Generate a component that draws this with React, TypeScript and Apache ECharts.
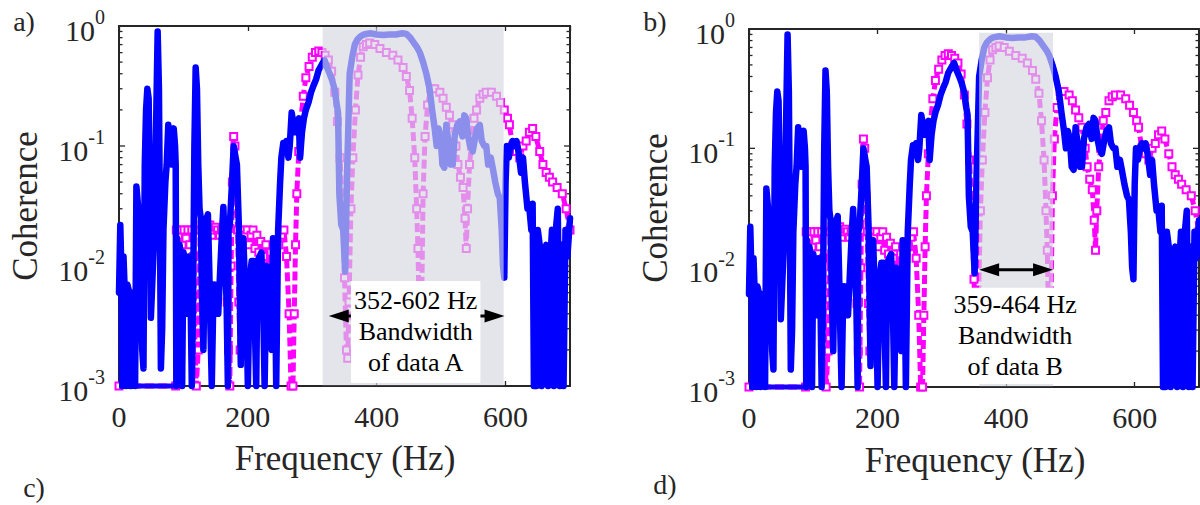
import React, { useEffect, useRef } from "react";
import * as echarts from "echarts";

const FONT = '"Liberation Serif", "Times New Roman", serif';
const AXIS_COLOR = "#262626";

// [frequency Hz, coherence]
const blueCoherence: number[][] = [
  [0, 0.006], [2, 0.022], [4, 0.008], [5, 0.001], [7, 0.012], [9, 0.006], [11, 0.001], [13, 0.007],
  [16, 0.006], [18, 0.001], [20, 0.006], [23, 0.005], [25, 0.001], [27, 0.046], [30, 0.03], [33, 0.006],
  [36, 0.002], [38, 0.0014], [40, 0.07], [42, 0.2], [44, 0.3], [46, 0.25], [47.5, 0.06], [49.5, 0.0037],
  [52, 0.008], [55, 0.02], [57, 0.1], [60, 0.9], [62, 0.3], [64, 0.01], [65, 0.0014], [67, 0.003],
  [69, 0.02], [72, 0.05], [74, 0.07], [76.5, 0.15], [79, 0.1], [81.5, 0.07], [83, 0.13], [85, 0.14],
  [87, 0.1], [88, 0.07], [89, 0.001], [90, 0.017], [92, 0.002], [94, 0.015], [96, 0.012], [98, 0.001],
  [100, 0.013], [103, 0.01], [106, 0.004], [108, 0.012], [111, 0.006], [113, 0.001], [115, 0.005],
  [117, 0.1], [119, 0.45], [121, 0.3], [123, 0.07], [125, 0.03], [127, 0.025], [129, 0.005], [131, 0.002],
  [133, 0.01], [136, 0.025], [138, 0.027], [140, 0.01], [142, 0.003], [144, 0.001], [146, 0.004],
  [148, 0.007], [151, 0.004], [154, 0.004], [157, 0.009], [160, 0.02], [162, 0.031], [164, 0.015],
  [167, 0.005], [169, 0.001], [170, 0.02], [172, 0.022], [175, 0.045], [178, 0.1], [181, 0.08],
  [183, 0.07], [186, 0.022], [189, 0.0015], [191, 0.01], [193, 0.017], [196, 0.006], [198, 0.004],
  [200, 0.001], [203, 0.008], [206, 0.011], [209, 0.011], [211, 0.003], [213, 0.001], [215, 0.011],
  [218, 0.012], [221, 0.013], [224, 0.004], [226, 0.001], [229, 0.01], [232, 0.008], [234, 0.005],
  [237, 0.002], [239, 0.017], [242, 0.01], [244, 0.001], [247, 0.02], [250, 0.049], [252, 0.08],
  [255, 0.106], [258, 0.09], [260, 0.11], [263, 0.08], [265, 0.1], [268, 0.19], [271, 0.15],
  [273, 0.13], [276, 0.16], [279, 0.17], [281, 0.08], [284, 0.13], [287, 0.17], [290, 0.2],
  [294, 0.23], [298, 0.28], [302, 0.32], [306, 0.36], [310, 0.43], [315, 0.48], [319, 0.52],
  [323, 0.45], [327, 0.4], [331, 0.35], [335, 0.29], [338, 0.22], [340, 0.19], [342, 0.04],
  [345, 0.022], [348, 0.02], [351, 0.009], [354, 0.06], [356, 0.15], [358, 0.4], [362, 0.55],
  [366, 0.7], [370, 0.77], [375, 0.82], [380, 0.85], [390, 0.87], [400, 0.85], [410, 0.84],
  [420, 0.85], [430, 0.85], [440, 0.87], [446, 0.86], [452, 0.8], [458, 0.72], [463, 0.66],
  [467, 0.6], [472, 0.5], [477, 0.4], [482, 0.3], [486, 0.2], [490, 0.14], [493, 0.1], [496, 0.14],
  [499, 0.12], [502, 0.07], [505, 0.066], [508, 0.15], [512, 0.1], [515, 0.07], [518, 0.07],
  [521, 0.12], [525, 0.15], [529, 0.16], [533, 0.12], [536, 0.18], [539, 0.17], [542, 0.12],
  [545, 0.1], [549, 0.09], [553, 0.12], [556, 0.14], [560, 0.15], [563, 0.11], [567, 0.1],
  [570, 0.1], [573, 0.07], [577, 0.08], [580, 0.066], [584, 0.05], [588, 0.04], [591, 0.037],
  [594, 0.02], [596, 0.01], [598, 0.008], [600, 0.05], [602, 0.1], [605, 0.08], [608, 0.1],
  [611, 0.11], [614, 0.1], [617, 0.11], [620, 0.09], [624, 0.06], [627, 0.08], [630, 0.05],
  [634, 0.03], [637, 0.03], [640, 0.02], [642, 0.033], [644, 0.001], [646, 0.02], [648, 0.001],
  [650, 0.02], [653, 0.015], [656, 0.001], [659, 0.012], [663, 0.015], [666, 0.001], [669, 0.01],
  [672, 0.02], [675, 0.001], [678, 0.02], [681, 0.03], [684, 0.001], [687, 0.015], [690, 0.001],
  [693, 0.02], [696, 0.012], [700, 0.025],
];

const blueFloor: number[][] = [[0, 0.001], [89, 0.001]];

const magentaCoherence: number[][] = [
  [0, 0.001], [88, 0.001], [89, 0.02], [92, 0.018], [95, 0.02], [98, 0.015], [101, 0.02], [104, 0.017],
  [107, 0.02], [110, 0.015], [113, 0.02], [116, 0.012], [118, 0.002], [120, 0.001], [123, 0.002],
  [126, 0.02], [129, 0.022], [132, 0.006], [135, 0.004], [138, 0.02], [141, 0.022], [144, 0.018],
  [147, 0.02], [150, 0.021], [153, 0.02], [156, 0.018], [159, 0.02], [162, 0.02], [165, 0.015],
  [168, 0.005], [170, 0.002], [172, 0.001], [174, 0.01], [176, 0.05], [178, 0.12], [180, 0.1],
  [182, 0.04], [184, 0.02], [186, 0.005], [188, 0.002], [190, 0.01], [193, 0.02], [196, 0.018],
  [199, 0.02], [202, 0.015], [205, 0.018], [208, 0.02], [211, 0.014], [214, 0.018], [217, 0.013],
  [220, 0.016], [224, 0.012], [228, 0.015], [232, 0.01], [236, 0.013], [240, 0.01], [244, 0.012],
  [248, 0.015], [252, 0.018], [256, 0.02], [260, 0.012], [264, 0.004], [267, 0.001], [270, 0.001],
  [272, 0.004], [274, 0.015], [276, 0.04], [279, 0.09], [282, 0.16], [286, 0.26], [290, 0.37],
  [295, 0.46], [300, 0.55], [305, 0.6], [310, 0.62], [315, 0.6], [320, 0.57], [325, 0.52],
  [330, 0.42], [335, 0.28], [339, 0.16], [343, 0.08], [347, 0.03], [350, 0.008], [353, 0.002],
  [355, 0.0017], [357, 0.005], [360, 0.03], [363, 0.08], [367, 0.2], [371, 0.39], [375, 0.55],
  [379, 0.67], [384, 0.7], [389, 0.72], [397, 0.7], [405, 0.65], [415, 0.6], [425, 0.57],
  [433, 0.52], [441, 0.45], [446, 0.38], [451, 0.29], [455, 0.17], [459, 0.08], [462, 0.03],
  [464, 0.014], [466, 0.004], [468, 0.0017], [470, 0.006], [472, 0.04], [475, 0.12], [479, 0.22],
  [484, 0.3], [490, 0.3], [498, 0.28], [503, 0.25], [508, 0.21], [513, 0.18], [518, 0.15],
  [523, 0.1], [526, 0.07], [530, 0.055], [534, 0.045], [537, 0.025], [539, 0.014], [541, 0.03],
  [544, 0.07], [547, 0.1], [551, 0.17], [555, 0.2], [560, 0.25], [565, 0.27], [570, 0.28],
  [578, 0.28], [586, 0.26], [592, 0.23], [598, 0.2], [603, 0.17], [606, 0.15], [611, 0.1],
  [617, 0.09], [622, 0.08], [627, 0.1], [632, 0.11], [637, 0.13], [642, 0.14], [647, 0.12],
  [653, 0.09], [658, 0.07], [663, 0.06], [668, 0.055], [673, 0.05], [680, 0.045], [688, 0.04],
  [694, 0.03], [700, 0.02],
];

const xTicks = [0, 200, 400, 600];
const yDecades = [0.001, 0.01, 0.1, 1];
const yMinorMultipliers = [2, 3, 4, 5, 6, 7, 8, 9];

// [fromHz, toHz, topCoherence]
const bandA = [316, 597, 1];
const bandB = [358, 473, 0.95];
// arrows [fromHz, toHz, coherence]
const arrowA = [325.6, 598.4, 0.00383];
const arrowB = [358, 473, 0.0096];
// text boxes [fromHz, toHz, topCoherence, bottomCoherence]
const boxA = [360, 561, 0.0075, 0.00106];
const boxB = [313, 515, 0.0068, 0.00106];
const textA = "352-602 Hz\nBandwidth\nof data A";
const textB = "359-464 Hz\nBandwidth\nof data B";

const X_MIN = 0;
const X_MAX = 700;
const Y_MIN = 0.001;
const Y_MAX = 1;

function tickData() {
  const out: number[][] = [];
  yDecades.forEach((d) => out.push([X_MIN, d, 1]));
  yDecades.slice(0, 3).forEach((d) => yMinorMultipliers.forEach((m) => out.push([X_MIN, d * m, 0])));
  return out;
}

function buildPanel(gi: number, band: number[], arrow: number[], box: number[], text: string) {
  const xi = gi * 2;
  const yi = gi * 2;
  return [
    {
      type: "line",
      name: "magenta",
      xAxisIndex: xi,
      yAxisIndex: yi,
      data: magentaCoherence,
      z: 2,
      clip: false,
      symbol: "emptyRect",
      symbolSize: 7,
      showSymbol: true,
      showAllSymbol: true,
      itemStyle: { color: "#ff00ff", borderWidth: 1.3 },
      lineStyle: { color: "#ff00ff", width: 5, type: [9, 4] },
      silent: true,
    },
    {
      type: "line",
      name: "floor",
      xAxisIndex: xi,
      yAxisIndex: yi,
      data: blueFloor,
      z: 3,
      clip: false,
      symbol: "none",
      lineStyle: { color: "#1a00ff", width: 5 },
      silent: true,
    },
    {
      type: "line",
      name: "blue",
      xAxisIndex: xi,
      yAxisIndex: yi,
      data: blueCoherence,
      z: 3,
      clip: false,
      symbol: "none",
      lineStyle: { color: "#0000ff", width: 6.5, cap: "round", join: "round" },
      silent: true,
    },
    {
      type: "custom",
      name: "yticks",
      xAxisIndex: xi,
      yAxisIndex: yi,
      data: tickData(),
      z: 1,
      clip: false,
      silent: true,
      encode: { x: 0, y: 1 },
      renderItem: (params: any, api: any) => {
        const v = api.value(1);
        const major = api.value(2) === 1;
        const l = api.coord([X_MIN, v]);
        const r = api.coord([X_MAX, v]);
        const len = major ? 6 : 3.5;
        return {
          type: "group",
          children: [
            { type: "line", shape: { x1: l[0], y1: l[1], x2: l[0] + len, y2: l[1] }, style: { stroke: AXIS_COLOR, lineWidth: 1.3 } },
            { type: "line", shape: { x1: r[0] - len, y1: r[1], x2: r[0], y2: r[1] }, style: { stroke: AXIS_COLOR, lineWidth: 1.3 } },
          ],
        };
      },
    },
    {
      type: "custom",
      name: "band",
      xAxisIndex: xi,
      yAxisIndex: yi,
      data: [band],
      z: 10,
      clip: false,
      silent: true,
      encode: { x: [0, 1], y: 2 },
      renderItem: (params: any, api: any) => {
        const a = api.coord([api.value(0), api.value(2)]);
        const b = api.coord([api.value(1), Y_MIN]);
        return {
          type: "rect",
          shape: { x: a[0], y: a[1] + 1.2, width: b[0] - a[0], height: b[1] - a[1] - 2 },
          style: { fill: "rgba(212,215,224,0.66)" },
        };
      },
    },
    {
      type: "custom",
      name: "arrow",
      xAxisIndex: xi,
      yAxisIndex: yi,
      data: [arrow],
      z: 11,
      clip: false,
      silent: true,
      encode: { x: [0, 1], y: 2 },
      renderItem: (params: any, api: any) => {
        const a = api.coord([api.value(0), api.value(2)]);
        const b = api.coord([api.value(1), api.value(2)]);
        const hl = 20;
        const hw = 6.5;
        const y = a[1];
        return {
          type: "group",
          children: [
            { type: "line", shape: { x1: a[0] + hl - 2, y1: y, x2: b[0] - hl + 2, y2: y }, style: { stroke: "#000", lineWidth: 3 } },
            { type: "polygon", shape: { points: [[a[0], y], [a[0] + hl, y - hw], [a[0] + hl, y + hw]] }, style: { fill: "#000" } },
            { type: "polygon", shape: { points: [[b[0], y], [b[0] - hl, y - hw], [b[0] - hl, y + hw]] }, style: { fill: "#000" } },
          ],
        };
      },
    },
    {
      type: "custom",
      name: "note",
      xAxisIndex: xi,
      yAxisIndex: yi,
      data: [box],
      z: 12,
      clip: false,
      silent: true,
      encode: { x: [0, 1], y: [2, 3] },
      renderItem: (params: any, api: any) => {
        const a = api.coord([api.value(0), api.value(2)]);
        const b = api.coord([api.value(1), api.value(3)]);
        const cx = (a[0] + b[0]) / 2;
        const cy = (a[1] + b[1]) / 2;
        return {
          type: "group",
          children: [
            { type: "rect", shape: { x: a[0], y: a[1], width: b[0] - a[0], height: b[1] - a[1] }, style: { fill: "#ffffff" } },
            {
              type: "text",
              style: {
                text,
                x: cx,
                y: cy,
                align: "center",
                verticalAlign: "middle",
                font: `26px ${FONT}`,
                lineHeight: 31,
                fill: "#000000",
              },
            },
          ],
        };
      },
    },
  ];
}

function makeXAxes(gi: number) {
  return [
    {
      gridIndex: gi,
      type: "value",
      position: "bottom",
      min: X_MIN,
      max: X_MAX,
      interval: 200,
      axisLine: { show: true, onZero: false, lineStyle: { color: AXIS_COLOR, width: 2 } },
      axisTick: { show: true, inside: true, length: 5, lineStyle: { color: AXIS_COLOR, width: 1.3 } },
      axisLabel: {
        show: true,
        margin: 15,
        color: AXIS_COLOR,
        fontSize: 30,
        fontFamily: FONT,
        showMaxLabel: false,
        formatter: (v: number) => (xTicks.includes(v) ? String(v) : ""),
      },
      splitLine: { show: false },
    },
    {
      gridIndex: gi,
      type: "value",
      position: "top",
      min: X_MIN,
      max: X_MAX,
      interval: 200,
      axisLine: { show: true, onZero: false, lineStyle: { color: AXIS_COLOR, width: 2 } },
      axisTick: { show: true, inside: true, length: 5, lineStyle: { color: AXIS_COLOR, width: 1.3 } },
      axisLabel: { show: false },
      splitLine: { show: false },
    },
  ];
}

function makeYAxes(gi: number) {
  return [
    {
      gridIndex: gi,
      type: "log",
      logBase: 10,
      position: "left",
      min: Y_MIN,
      max: Y_MAX,
      axisLine: { show: true, onZero: false, lineStyle: { color: AXIS_COLOR, width: 2 } },
      axisTick: { show: false },
      axisLabel: {
        show: true,
        margin: 14,
        formatter: (v: number) => `{b|10}{s|${Math.round(Math.log10(v))}}`,
        rich: {
          b: { fontSize: 30, fontFamily: FONT, color: AXIS_COLOR, padding: [8, 0, 0, 0] },
          s: { fontSize: 20, fontFamily: FONT, color: AXIS_COLOR, verticalAlign: "top" },
        },
      },
      splitLine: { show: false },
    },
    {
      gridIndex: gi,
      type: "log",
      logBase: 10,
      position: "right",
      min: Y_MIN,
      max: Y_MAX,
      axisLine: { show: true, onZero: false, lineStyle: { color: AXIS_COLOR, width: 2 } },
      axisTick: { show: false },
      axisLabel: { show: false },
      splitLine: { show: false },
    },
  ];
}

function titleText(x: number, y: number, text: string, size: number, rot = 0) {
  return {
    type: "text",
    x,
    y,
    rotation: rot,
    z: 50,
    silent: true,
    style: {
      text,
      font: `${size}px ${FONT}`,
      fill: AXIS_COLOR,
      align: "center",
      verticalAlign: "middle",
    },
  };
}

export default function App() {
  const ref = useRef<HTMLDivElement>(null);
  useEffect(() => {
    document.body.style.margin = "0";
    if (!ref.current) return;
    const chart = echarts.init(ref.current, undefined, { renderer: "svg" });
    const option: any = {
      animation: false,
      backgroundColor: "#ffffff",
      grid: [
        { left: 119, top: 26, width: 451, height: 360 },
        { left: 749, top: 29, width: 450, height: 358 },
      ],
      xAxis: [...makeXAxes(0), ...makeXAxes(1)],
      yAxis: [...makeYAxes(0), ...makeYAxes(1)],
      series: [
        ...buildPanel(0, bandA, arrowA, boxA, textA),
        ...buildPanel(1, bandB, arrowB, boxB, textB),
      ],
      graphic: [
        titleText(25, 206, "Coherence", 35, Math.PI / 2),
        titleText(655, 208, "Coherence", 35, Math.PI / 2),
        titleText(345, 458, "Frequency (Hz)", 35),
        titleText(975, 460, "Frequency (Hz)", 35),
        titleText(24, 21, "a)", 28),
        titleText(655, 21, "b)", 28),
        titleText(34, 487, "c)", 28),
        titleText(665, 484, "d)", 28),
      ],
    };
    chart.setOption(option);
    return () => chart.dispose();
  }, []);
  return (
    <div
      ref={ref}
      style={{ position: "absolute", left: 0, top: 0, width: 1200, height: 505, background: "#fff" }}
    />
  );
}
